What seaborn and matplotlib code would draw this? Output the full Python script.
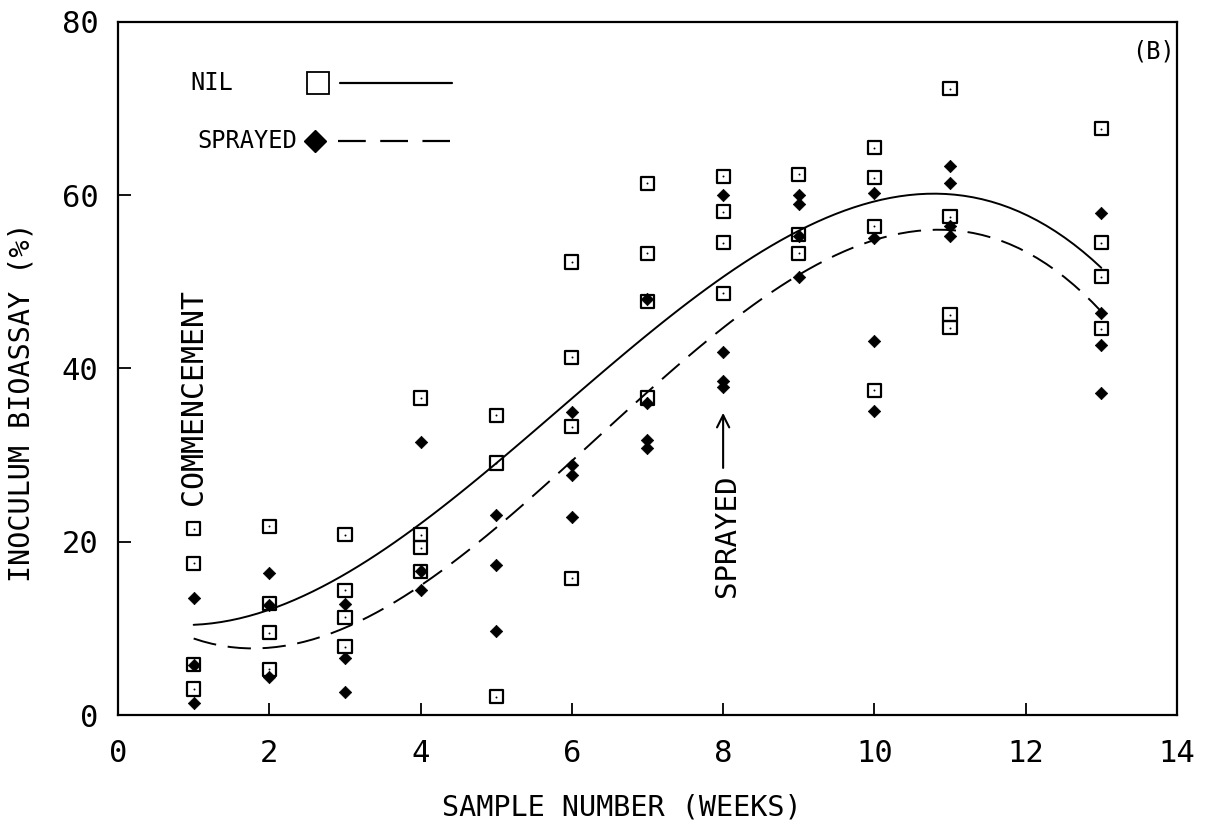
import matplotlib
matplotlib.use("Agg")
import matplotlib.pyplot as plt
from matplotlib.lines import Line2D
import seaborn as sns
import pandas as pd

# ---- data ----
nil_weeks = [1, 1, 1, 1, 2, 2, 2, 2, 3, 3, 3, 3, 4, 4, 4, 4, 5, 5, 5,
             6, 6, 6, 6, 7, 7, 7, 7, 8, 8, 8, 8, 9, 9, 9,
             10, 10, 10, 10, 11, 11, 11, 11, 13, 13, 13, 13]
nil_values = [21.5, 17.5, 5.8, 3.0, 21.8, 12.9, 9.5, 5.3, 20.8, 14.4, 11.3, 7.9,
              36.6, 20.8, 19.3, 16.6, 34.6, 29.1, 2.1,
              52.3, 41.3, 33.3, 15.8, 61.4, 53.3, 47.7, 36.6,
              62.2, 58.1, 54.5, 48.7, 62.4, 55.5, 53.3,
              65.5, 62.0, 56.4, 37.5, 72.3, 57.5, 46.2, 44.7,
              67.7, 54.5, 50.6, 44.6]
sprayed_weeks = [1, 1, 1, 2, 2, 2, 3, 3, 3, 4, 4, 4, 5, 5, 5,
                 6, 6, 6, 6, 7, 7, 7, 7, 8, 8, 8, 8, 9, 9, 9, 9,
                 10, 10, 10, 10, 11, 11, 11, 11, 13, 13, 13, 13]
sprayed_values = [13.5, 5.8, 1.4, 16.4, 12.7, 4.4, 12.8, 6.6, 2.7,
                  31.5, 16.6, 14.4, 23.1, 17.3, 9.7,
                  35.0, 28.9, 27.7, 22.9, 48.0, 36.0, 31.7, 30.8,
                  60.0, 41.9, 38.5, 37.9, 60.0, 59.0, 55.3, 50.6,
                  60.3, 55.1, 43.2, 35.1, 63.4, 61.4, 56.4, 55.3,
                  58.0, 46.4, 42.7, 37.2]
x_ticks = [0, 2, 4, 6, 8, 10, 12, 14]
y_ticks = [0, 20, 40, 60, 80]
series_labels = ["NIL", "SPRAYED"]

nil = pd.DataFrame({"week": nil_weeks, "value": nil_values})
spr = pd.DataFrame({"week": sprayed_weeks, "value": sprayed_values})

sns.set_theme(style="ticks")
plt.rcParams["font.family"] = ["DejaVu Sans Mono"]
for k in ("text.color", "axes.labelcolor", "xtick.color", "ytick.color",
          "axes.edgecolor"):
    plt.rcParams[k] = "black"

DASH = (0, (12, 6))

fig = plt.figure(figsize=(12.08, 8.32), dpi=100)
ax = fig.add_axes([0.0977, 0.1406, 0.8766, 0.8330])

# fitted curves (cubic regression by seaborn)
sns.regplot(data=nil, x="week", y="value", order=3, ci=None, scatter=False,
            ax=ax, line_kws=dict(color="black", lw=1.4, ls="-"))
sns.regplot(data=spr, x="week", y="value", order=3, ci=None, scatter=False,
            ax=ax, line_kws=dict(color="black", lw=1.4, ls=DASH))

# points
sns.scatterplot(data=nil, x="week", y="value", marker="s", s=90,
                facecolor="none", edgecolor="black", linewidth=1.6, ax=ax, zorder=3)
sns.scatterplot(data=nil, x="week", y="value", marker="o", s=2,
                color="black", linewidth=0, ax=ax, zorder=3)
sns.scatterplot(data=spr, x="week", y="value", marker="D", s=40,
                color="black", edgecolor="black", linewidth=0.5, ax=ax, zorder=4)

ax.set_xlim(0, 14)
ax.set_ylim(0, 80)
ax.set_xticks(x_ticks)
ax.set_yticks(y_ticks)
ax.set_xticklabels([str(t) for t in x_ticks], fontsize=22)
ax.set_yticklabels([str(t) for t in y_ticks], fontsize=22)
ax.tick_params(axis="both", direction="in", length=9, width=1.3, color="black")
ax.tick_params(axis="x", pad=17)
ax.tick_params(axis="y", pad=14)
for sp in ax.spines.values():
    sp.set_visible(True)
    sp.set_linewidth(1.6)
    sp.set_color("black")

ax.set_xlabel("SAMPLE NUMBER (WEEKS)", fontsize=20.5)
ax.set_ylabel("INOCULUM BIOASSAY (%)", fontsize=20.5)
ax.xaxis.set_label_coords(0.476, -0.113)
ax.yaxis.set_label_coords(-0.078, 0.452)

# annotations
ax.text(1.0, 24.3, "COMMENCEMENT", rotation=90, ha="center", va="bottom",
        fontsize=21.5)
ax.text(8.05, 13.6, "SPRAYED", rotation=90, ha="center", va="bottom",
        fontsize=21)
ax.annotate("", xy=(8.0, 35.2), xytext=(8.0, 28.2),
            arrowprops=dict(arrowstyle="->", color="black", lw=1.5,
                            mutation_scale=22))
ax.text(0.998, 0.975, "(B)", transform=ax.transAxes, ha="right", va="top",
        fontsize=17)

# legend drawn as in the original: label, marker, then line
T = ax.transAxes
ax.text(0.068, 0.912, series_labels[0], transform=T, ha="left", va="center",
        fontsize=17)
ax.text(0.0746, 0.828, series_labels[1], transform=T, ha="left", va="center",
        fontsize=17)
ax.add_line(Line2D([0.189], [0.912], transform=T, marker="s", markersize=16,
                   markerfacecolor="white", markeredgecolor="black",
                   markeredgewidth=1.3, ls="none"))
ax.add_line(Line2D([0.2096, 0.3154], [0.912, 0.912], transform=T,
                   color="black", lw=1.6, ls="-"))
ax.add_line(Line2D([0.186], [0.828], transform=T, marker="D", markersize=11,
                   markerfacecolor="black", markeredgecolor="black", ls="none"))
ax.add_line(Line2D([0.208, 0.3135], [0.828, 0.828], transform=T,
                   color="black", lw=1.6, ls=(0, (12.5, 6.5))))

fig.savefig("out.png", dpi=100)
